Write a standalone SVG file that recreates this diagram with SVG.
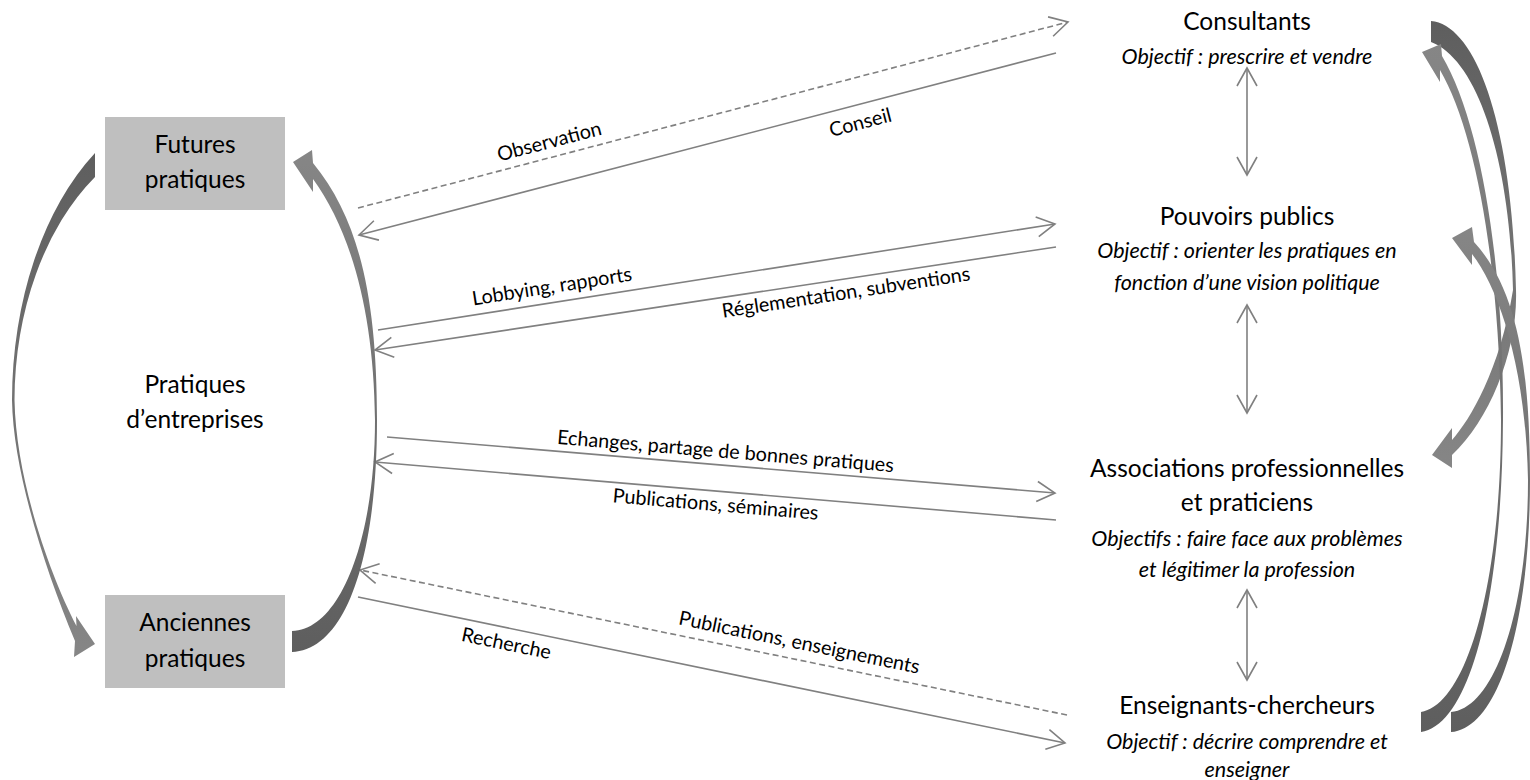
<svg xmlns="http://www.w3.org/2000/svg" width="1530" height="780" viewBox="0 0 1530 780">
<style>
.t{font-family:Lato,"Open Sans",sans-serif;font-size:24.5px;fill:#000;text-anchor:middle}
.o{font-family:Lato,"Open Sans",sans-serif;font-size:21.5px;font-style:italic;fill:#000;text-anchor:middle}
.l{font-family:Lato,"Open Sans",sans-serif;font-size:19.8px;fill:#000;text-anchor:middle}
.c{fill:none;stroke:#808080;stroke-width:1.6;marker-end:url(#ah)}
.d{stroke-dasharray:6 3.5}
.v{fill:none;stroke:#808080;stroke-width:1.6;marker-start:url(#ahs);marker-end:url(#ah)}
.box{fill:#bfbfbf}
</style>
<defs>
<marker id="ah" markerUnits="userSpaceOnUse" viewBox="-22 -13 24 26" refX="0" refY="0" markerWidth="24" markerHeight="26" orient="auto">
<path d="M-18,-10 L0,0 L-18,10" fill="none" stroke="#808080" stroke-width="1.6"/>
</marker>
<marker id="ahs" markerUnits="userSpaceOnUse" viewBox="-22 -13 24 26" refX="0" refY="0" markerWidth="24" markerHeight="26" orient="auto-start-reverse">
<path d="M-18,-10 L0,0 L-18,10" fill="none" stroke="#808080" stroke-width="1.6"/>
</marker>
<linearGradient id="gDown" x1="0" y1="0" x2="0" y2="1">
<stop offset="0" stop-color="#5e5e5e"/><stop offset="1" stop-color="#868686"/>
</linearGradient>
<linearGradient id="gUp" x1="0" y1="1" x2="0" y2="0">
<stop offset="0" stop-color="#5e5e5e"/><stop offset="1" stop-color="#868686"/>
</linearGradient>
</defs>

<g id="futures">
<rect class="box" x="105" y="117" width="180" height="93"/>
<text class="t" x="195" y="153">Futures</text>
<text class="t" x="195" y="188">pratiques</text>
</g>
<g id="anciennes">
<rect class="box" x="105" y="595" width="180" height="93"/>
<text class="t" x="195" y="631">Anciennes</text>
<text class="t" x="195" y="667">pratiques</text>
</g>
<g id="pratiques">
<text class="t" x="195" y="393">Pratiques</text>
<text class="t" x="195" y="428">d’entreprises</text>
</g>
<g id="consultants">
<text class="t" x="1247" y="30">Consultants</text>
<text class="o" x="1247" y="64">Objectif : prescrire et vendre</text>
</g>
<g id="pouvoirs">
<text class="t" x="1247" y="225">Pouvoirs publics</text>
<text class="o" x="1247" y="258">Objectif : orienter les pratiques en</text>
<text class="o" x="1247" y="290">fonction d’une vision politique</text>
</g>
<g id="associations">
<text class="t" x="1247" y="477">Associations professionnelles</text>
<text class="t" x="1247" y="511">et praticiens</text>
<text class="o" x="1247" y="546">Objectifs : faire face aux problèmes</text>
<text class="o" x="1247" y="577">et légitimer la profession</text>
</g>
<g id="enseignants">
<text class="t" x="1247" y="714">Enseignants-chercheurs</text>
<text class="o" x="1247" y="749">Objectif : décrire comprendre et</text>
<text class="o" x="1247" y="777">enseigner</text>
</g>

<g id="connectors">
<path class="c d" d="M358,208 L1068,22"/>
<path class="c" d="M1056,53 L359,235"/>
<path class="c" d="M378,330 L1055,224"/>
<path class="c" d="M1056,247 L375,350"/>
<path class="c" d="M387,437 L1055,493"/>
<path class="c" d="M1056,520 L375,462"/>
<path class="c d" d="M1067,715 L360,570"/>
<path class="c" d="M358,597 L1065,743"/>
<path class="v" d="M1247,68 L1247,175"/>
<path class="v" d="M1247,305 L1247,413"/>
<path class="v" d="M1247,590 L1247,680"/>

<path fill="url(#gDown)" d="M95,153 A190,300 0 0 0 12,400 C13,470 45,570 75,641 L74,657 L95,644 L76,616 L76.5,626 C50,575 16,480 14.5,400 A187,272 0 0 1 95,177 Z"/>
<path fill="url(#gUp)" d="M292,652 C345,650 377,560 377,420 C377,300 360,220 313,163 L312,150 L293,162 L313,192 L313,179 C350,230 374,310 375,420 C375,540 340,630 292,631 Z"/>
<path fill="url(#gDown)" d="M1431,21 C1475,25 1512,120 1516,290 C1518,350 1490,420 1452,455 L1452,468 L1432,455 L1452,428 L1452,440 C1470,420 1500,370 1513,290 C1510,160 1478,60 1431,42 Z"/>
<path fill="url(#gUp)" d="M1421,732 C1470,725 1502,600 1503,420 C1504,260 1480,120 1442,56 L1441,44 L1422,52 L1440,82 L1440,70 C1475,130 1499,260 1501,420 C1501,590 1465,705 1421,712 Z"/>
<path fill="url(#gUp)" d="M1451,732 C1500,728 1530,620 1530,480 C1530,370 1518,290 1474,242 L1472,227 L1452,238 L1472,265 L1472,254 C1500,290 1526,370 1528,480 C1528,610 1495,708 1451,712 Z"/>

<text class="l" x="551" y="148" transform="rotate(-14.7 551 148)">Observation</text>
<text class="l" x="862" y="129" transform="rotate(-14.6 862 129)">Conseil</text>
<text class="l" x="553" y="293" transform="rotate(-8.9 553 293)">Lobbying, rapports</text>
<text class="l" x="847" y="299" transform="rotate(-8.6 847 299)">Réglementation, subventions</text>
<text class="l" x="725" y="458" transform="rotate(4.8 725 458)">Echanges, partage de bonnes pratiques</text>
<text class="l" x="715" y="511" transform="rotate(4.9 715 511)">Publications, séminaires</text>
<text class="l" x="798" y="649" transform="rotate(11.6 798 649)">Publications, enseignements</text>
<text class="l" x="505" y="650" transform="rotate(11.7 505 650)">Recherche</text>
</g>
</svg>
